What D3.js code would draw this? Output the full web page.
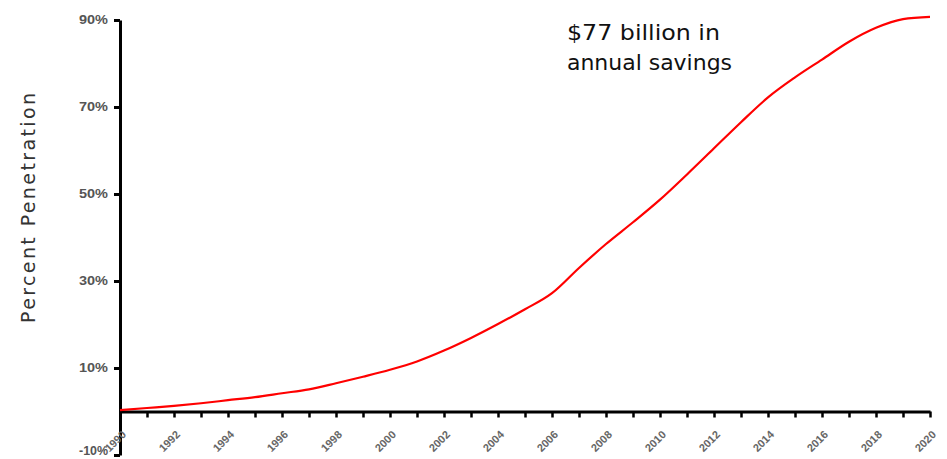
<!DOCTYPE html>
<html><head><meta charset="utf-8">
<script src="https://cdn.jsdelivr.net/npm/d3@7"></script>
<style>body{margin:0;background:#fff;} svg{display:block;}</style>
</head><body>
<svg id="c" width="947" height="459"></svg>
<script>
const years = [1990,1991,1992,1993,1994,1995,1996,1997,1998,1999,2000,2001,2002,2003,2004,2005,2006,2007,2008,2009,2010,2011,2012,2013,2014,2015,2016,2017,2018,2019,2020];
const penetration = [0.3,0.8,1.3,1.9,2.6,3.3,4.2,5.1,6.5,8.0,9.6,11.5,14.0,16.9,20.1,23.5,27.2,33.0,38.5,43.5,48.7,54.5,60.5,66.5,72.2,76.8,80.9,85.0,88.2,90.2,90.7];
const yTicks = [-10,10,30,50,70,90];
const xLabelYears = [1990,1992,1994,1996,1998,2000,2002,2004,2006,2008,2010,2012,2014,2016,2018,2020];
const yTitle = "Percent Penetration";
const noteLines = ["$77 billion in","annual savings"];

const svg = d3.select("#c");
const x = d3.scaleLinear().domain([1990,2020]).range([120,930]);
const y = d3.scaleLinear().domain([-10,90]).range([455,20]);

// y axis
const ya = svg.append("g").attr("transform","translate(120,0)")
  .call(d3.axisLeft(y).tickValues(yTicks).tickSize(6).tickSizeOuter(0).tickFormat(d=>d+"%"));
ya.select(".domain").attr("stroke","#000").attr("stroke-width",3);
ya.selectAll(".tick line").attr("stroke","#000").attr("stroke-width",3);
ya.selectAll(".tick text").attr("font-family","Liberation Sans, Arial, sans-serif")
  .attr("font-size",12).attr("font-weight","bold").attr("fill","#555").attr("x",-12)
  .attr("textLength",29).attr("lengthAdjust","spacingAndGlyphs")
  .attr("dy",d=>d===-10?"-0.05em":"0.32em");

// x axis at 0%
const xa = svg.append("g").attr("transform",`translate(0,${y(0)})`)
  .call(d3.axisBottom(x).tickValues(years.slice(1)).tickSize(6).tickSizeOuter(0).tickFormat(""));
xa.select(".domain").attr("stroke","#000").attr("stroke-width",3);
xa.selectAll(".tick line").attr("stroke","#000").attr("stroke-width",2.5);

// x labels
svg.append("g").selectAll("text").data(xLabelYears).join("text")
  .attr("transform",d=>`translate(${x(d)+4},${y(0)+21}) rotate(-45)`)
  .attr("text-anchor","end").attr("dy","0.35em")
  .attr("font-family","Liberation Sans, Arial, sans-serif")
  .attr("font-size",11).attr("font-weight","bold").attr("fill","#666")
  .text(d=>d);

// line
const line = d3.line().x((d,i)=>x(years[i])).y(d=>y(d)).curve(d3.curveMonotoneX);
svg.append("path").datum(penetration).attr("d",line)
  .attr("fill","none").attr("stroke","#ff0000").attr("stroke-width",2.2);

// y title
svg.append("text").attr("transform","translate(35,208) rotate(-90)")
  .attr("text-anchor","middle")
  .attr("font-family","DejaVu Sans, sans-serif").attr("font-size",19)
  .attr("fill","#333").attr("textLength",230).attr("lengthAdjust","spacing")
  .text(yTitle);

// annotation
svg.append("g").selectAll("text").data(noteLines).join("text")
  .attr("x",567).attr("y",(d,i)=>40+i*30)
  .attr("font-family","DejaVu Sans, sans-serif").attr("font-size",21)
  .attr("fill","#111")
  .attr("textLength",(d,i)=>i===0?153:165).attr("lengthAdjust","spacingAndGlyphs")
  .text(d=>d);
</script>
</body></html>
